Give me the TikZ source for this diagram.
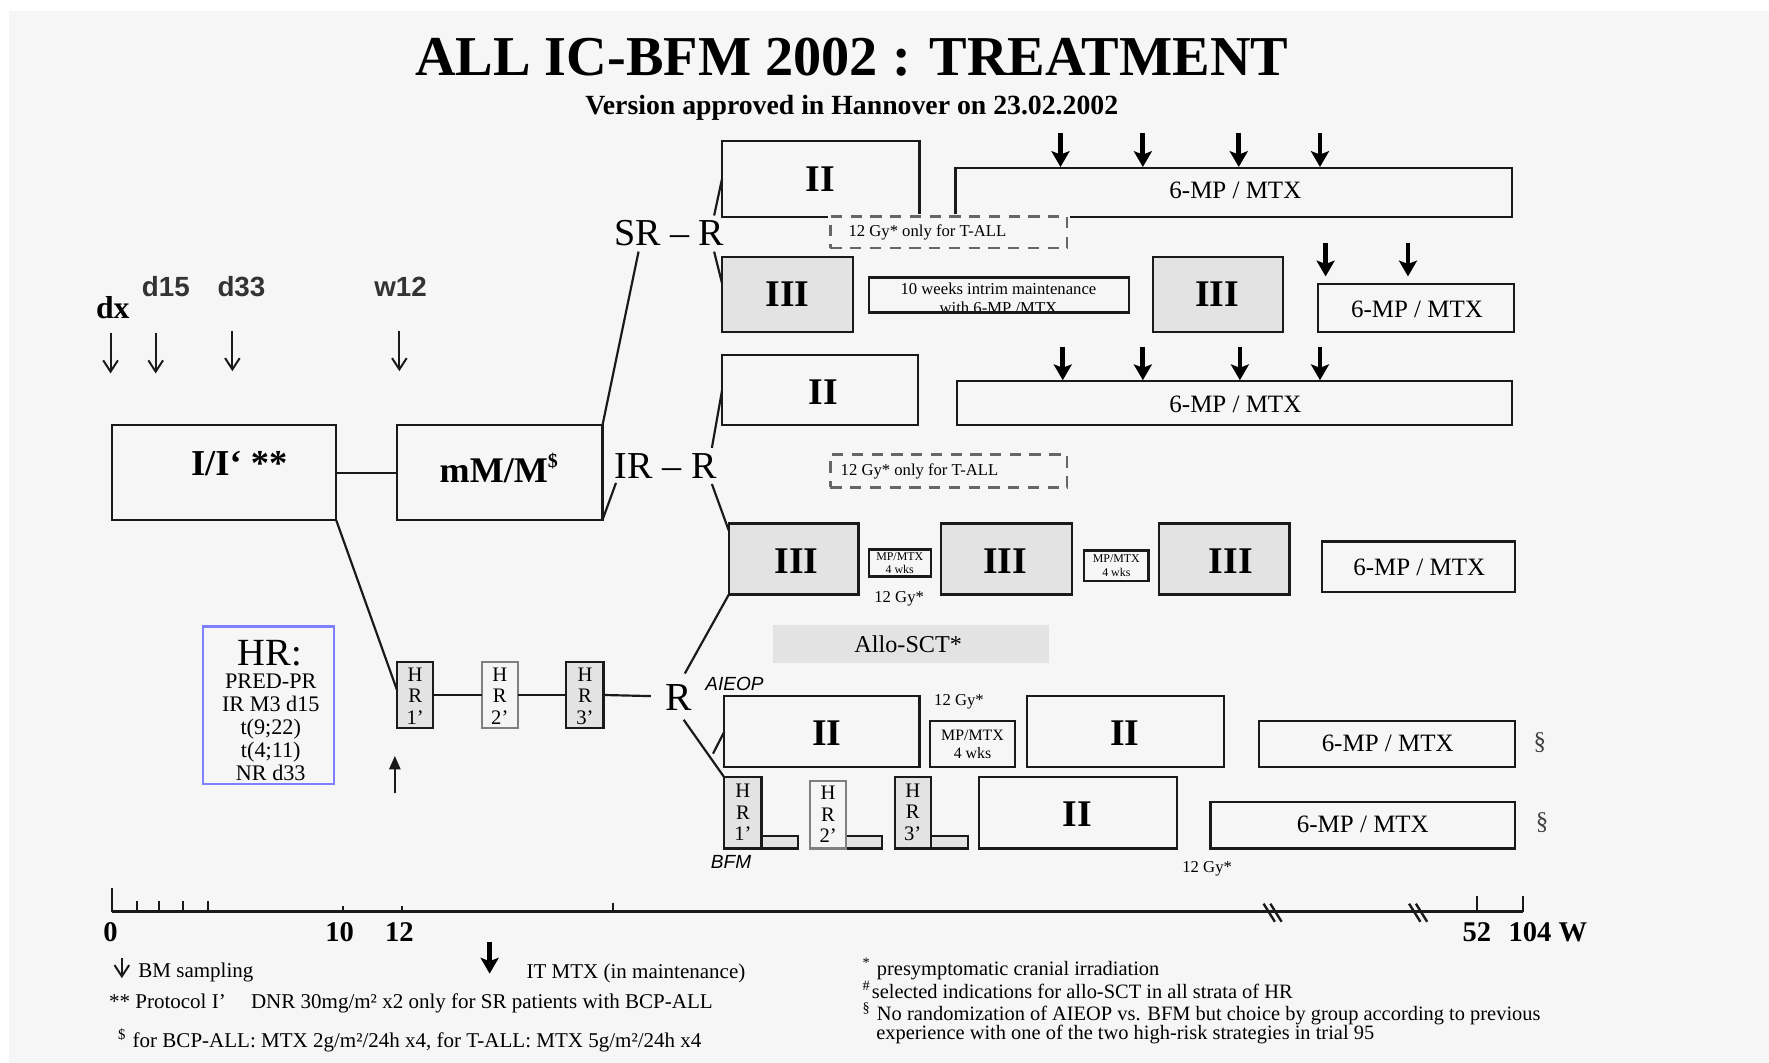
\documentclass[tikz,border=0pt]{standalone}
\usepackage{fontspec}
\setmainfont{Liberation Serif}
\newfontfamily\sansfam{Liberation Sans}
\usetikzlibrary{arrows.meta,fit,calc}
\definecolor{bgc}{HTML}{F6F6F6}
\definecolor{fillc}{HTML}{E3E3E3}
\definecolor{hrblue}{HTML}{8080FF}
\definecolor{ink}{HTML}{1A1A1A}
\newcommand\fsz[1]{\fontsize{#1pt}{#1pt}\selectfont}
\tikzset{
 box/.style={draw=ink, line width=0.55pt, inner sep=0pt, outer sep=0pt},
 gbox/.style={box, fill=fillc},
 lbox/.style={draw=gray, line width=0.55pt, fill=white!96!black, inner sep=0pt, outer sep=0pt},
 dbox/.style={draw=gray!80!black, dash pattern=on 1mm off 0.75mm, line width=0.6pt, inner sep=0pt, outer sep=0pt},
 link/.style={draw=ink, line width=0.55pt},
 thinarr/.style={draw=ink, line width=0.5pt, -{Straight Barb[length=1mm,width=1.3mm]}},
 bigarr/.style={draw=black, line width=1.2pt, -{Stealth[length=1.4mm,width=1.6mm,inset=0.3mm]}},
 roman/.style={font=\bfseries\fsz{9.5}},
 mptxt/.style={font=\fsz{6.3}},
 smalltxt/.style={font=\fsz{4.2}},
 hrtxt/.style={align=center, font=\fontsize{5.2pt}{5.4pt}\selectfont, inner sep=0pt},
 legtxt/.style={font=\fsz{5.3}, anchor=west, inner sep=0pt},
 legtxtr/.style={font=\fsz{5.15}, anchor=west, inner sep=0pt},
 daytxt/.style={font=\sansfam\bfseries\fsz{7}, text=black!80},
 axtxt/.style={font=\bfseries\fsz{7.2}},
 grptxt/.style={font=\sansfam\itshape\fsz{4.8}},
}
\begin{document}
\begin{tikzpicture}[x=0.1mm,y=-0.1mm]
\useasboundingbox (0,0) rectangle (1568,942);
\fill[white] (0,0) rectangle (1568,942);
\fill[bgc] (8,10) rectangle (1568,942);

% title
\node[font=\bfseries\fsz{14.2}] (title) at (755,51) {ALL IC-BFM 2002 : TREATMENT};
\node[font=\bfseries\fsz{7.0}] (subtitle) at (755,96) {Version approved in Hannover on 23.02.2002};

% time point labels and BM arrows
\node[font=\bfseries\fsz{8}] (dx) at (100,273) {dx};
\node[daytxt] (d15) at (147,254) {d15};
\node[daytxt] (d33) at (214,254) {d33};
\node[daytxt] (w12) at (355,254) {w12};
\draw[thinarr] (98,295) -- (98,331);
\draw[thinarr] (138,295) -- (138,331);
\draw[thinarr] (206,293) -- (206,329);
\draw[thinarr] (354,293) -- (354,329);

% induction and consolidation
\node[box, fit={(99,377)(298,461)}] (ind) {};
\node[font=\bfseries\fsz{9.2}] (indt) at (212,411) {I/I‘ **};
\node[box, fit={(352,377)(534,461)}] (mm) {};
\node[font=\bfseries\fsz{9.1}] (mmt) at (443,415) {mM/M\textsuperscript{\fsz{5}\$}};
\draw[link] (ind.east) -- (mm.west);

\node[font=\fsz{9.6}] (srr) at (593,207) {SR – R};
\node[font=\fsz{9.6}] (irr) at (590,413) {IR – R};
\coordinate (srrA) at (566,223);
\coordinate (irrA) at (546,428);
\draw[link] (mm.north east) -- (srrA);
\draw[link] (mm.south east) -- (irrA);

% ---------- SR row ----------
\node[box, fit={(640,125)(815,192)}] (sr2) {};
\node[roman] at (727,159) {II};
\node[box, fit={(847,149)(1340,192)}] (srm) {};
\node[mptxt] at (1095,169) {6-MP / MTX};
\fill[bgc] (734,190) rectangle (948,222);
\node[dbox, fit={(736,192)(946,220)}] (srd) {};
\node[smalltxt] at (822,206) {12 Gy* only for T-ALL};
\foreach \x in {940,1013,1098,1170} \draw[bigarr] (\x,118) -- (\x,148);

\node[gbox, fit={(640,228)(756,294)}] (sr3) {};
\node[roman] at (698,261) {III};
\node[smalltxt] at (885,256) {10 weeks intrim maintenance};
\node[smalltxt] at (885,273) {with 6-MP /MTX};
\node[box, fit={(770,246)(1001,277)}] (srint) {};
\node[gbox, fit={(1022,228)(1137,294)}] (sr3b) {};
\node[roman] at (1079,261) {III};
\foreach \x in {1175,1248} \draw[bigarr] (\x,215) -- (\x,245);
\node[box, fit={(1168,252)(1342,294)}] (srm2) {};
\node[mptxt] at (1256,274) {6-MP / MTX};

\coordinate (srrU) at (633,191);
\coordinate (srrD) at (633,223);
\draw[link] (srrU) -- (sr2.west);
\draw[link] (srrD) -- ($(sr3.north west)!0.35!(sr3.south west)$);

% ---------- IR row ----------
\node[box, fit={(640,315)(814,377)}] (ir2) {};
\node[roman] at (730,348) {II};
\node[box, fit={(848,338)(1340,377)}] (irm) {};
\node[mptxt] at (1095,358) {6-MP / MTX};
\foreach \x in {942,1013,1099,1170} \draw[bigarr] (\x,308) -- (\x,337);
\node[dbox, fit={(736,403)(946,432)}] (ird) {};
\node[smalltxt] at (815,418) {12 Gy* only for T-ALL};

\node[gbox, fit={(646,464)(761,527)}] (ir3a) {};
\node[roman] at (706,497) {III};
\node[gbox, fit={(834,464)(950,527)}] (ir3b) {};
\node[roman] at (891,497) {III};
\node[gbox, fit={(1027,464)(1143,527)}] (ir3c) {};
\node[roman] at (1091,497) {III};
\node[box, fit={(770,487)(825,511)}] (irmp1) {};
\node[align=center, font=\fontsize{3pt}{3.4pt}\selectfont, inner sep=0pt] at (797.5,499) {MP/MTX\\4 wks};
\node[box, fit={(961,488)(1018,515)}] (irmp2) {};
\node[align=center, font=\fontsize{3pt}{3.4pt}\selectfont, inner sep=0pt] at (989.5,501.5) {MP/MTX\\4 wks};
\node[smalltxt] at (797,531) {12 Gy*};
\node[box, fit={(1172,480)(1343,525)}] (irm2) {};
\node[mptxt] at (1258,503) {6-MP / MTX};

\coordinate (irrU) at (631,397);
\coordinate (irrD) at (631,429);
\draw[link] (irrU) -- (ir2.west);
\draw[link] (irrD) -- ($(ir3a.north west)!0.1!(ir3a.south west)$);

% Allo-SCT
\node[fill=fillc, inner sep=0pt, fit={(685,554)(930,588)}] (allo) {};
\node[font=\fsz{6.1}] at (805,571) {Allo-SCT*};

% ---------- HR ----------
\node[draw=hrblue, line width=0.7pt, inner sep=0pt, fit={(180,555)(296,695)}] (hrbox) {};
\node[font=\fsz{9.7}, inner sep=0pt] at (239,579) {HR:};
\node[align=center, font=\fontsize{5.6pt}{5.75pt}\selectfont, inner sep=0pt, anchor=north] at (240,597) {PRED-PR\\IR M3 d15\\t(9;22)\\t(4;11)\\NR d33};

\node[gbox, fit={(352,587)(384,645)}] (hr1) {};
\node[hrtxt] at (368,617) {H\\R\\1’};
\node[lbox, fit={(427,587)(459,645)}] (hr2) {};
\node[hrtxt] at (443,617) {H\\R\\2’};
\node[gbox, fit={(502,587)(535,645)}] (hr3) {};
\node[hrtxt] at (518.5,617) {H\\R\\3’};
\node[font=\fsz{10}] (hrR) at (602,618) {R};
\coordinate (hrRin) at (577,617);
\draw[link] (hr1.east) -- (hr2.west);
\draw[link] (hr2.east) -- (hr3.west);
\draw[link] (hr3.east) -- (hrRin);
\draw[link] (ind.south east) -- ($(hr1.north west)!0.43!(hr1.south west)$);
\draw[draw=ink, line width=0.5pt, -{Triangle[length=1.2mm,width=1mm]}] (350,703) -- (350,670);

% AIEOP row
\node[grptxt] at (651,606) {AIEOP};
\node[box, fit={(642,617)(815,680)}] (aie2) {};
\node[roman] at (733,650) {II};
\node[smalltxt] at (850,622) {12 Gy*};
\node[box, fit={(824,639)(900,680)}] (aiemp) {};
\node[align=center, font=\fontsize{4pt}{4.6pt}\selectfont, inner sep=0pt] at (862,659.5) {MP/MTX\\4 wks};
\node[box, fit={(910,617)(1085,680)}] (aie2b) {};
\node[roman] at (997,650) {II};
\node[box, fit={(1116,639)(1343,680)}] (aiem) {};
\node[mptxt] at (1230,659) {6-MP / MTX};
\node[font=\fsz{6.3}, text=black!75] at (1365,658) {§};

% BFM row
\node[gbox, fit={(675,741)(707,752)}] (bar1) {};
\node[gbox, fit={(750,741)(782,752)}] (bar2) {};
\node[gbox, fit={(825,741)(858,752)}] (bar3) {};
\node[gbox, fit={(642,689)(675,752)}] (bfm1) {};
\node[hrtxt] at (658.5,720) {H\\R\\1’};
\node[lbox, fit={(718,692)(750,752)}] (bfm2) {};
\node[hrtxt] at (734,722) {H\\R\\2’};
\node[gbox, fit={(793,689)(825,752)}] (bfm3) {};
\node[hrtxt] at (809,720) {H\\R\\3’};
\node[box, fit={(868,689)(1043,752)}] (bfmII) {};
\node[roman] at (955,722) {II};
\node[box, fit={(1073,711)(1343,752)}] (bfmm) {};
\node[mptxt] at (1208,731) {6-MP / MTX};
\node[font=\fsz{6.3}, text=black!75] at (1367,729) {§};
\node[smalltxt] at (1070,770) {12 Gy*};
\node[grptxt] at (648,764) {BFM};

% connectors from R
\coordinate (hrRu) at (607,597);
\coordinate (hrRd) at (606,638);
\coordinate (hrRm) at (632,668);
\draw[link] (hrRu) -- (ir3a.south west);
\draw[link] (hrRd) -- (bfm1.north west);
\draw[link] (hrRm) -- (aie2.west);

% ---------- time axis ----------
\draw[ink, line width=0.8pt] (99,808) -- (1350,808);
\draw[ink, line width=0.6pt] (99,787) -- (99,808);
\foreach \x in {121,141,162,184} \draw[ink, line width=0.5pt] (\x,799) -- (\x,808);
\foreach \x in {304,356} \draw[ink, line width=0.5pt] (\x,803) -- (\x,808);
\draw[ink, line width=0.5pt] (543,800) -- (543,808);
\draw[ink, line width=0.5pt] (1309,794) -- (1309,808);
\draw[ink, line width=0.5pt] (1350,794) -- (1350,808);
\foreach \x in {1128,1257} {
  \draw[ink, line width=0.6pt] (\x-8,801) -- (\x+2,817);
  \draw[ink, line width=0.6pt] (\x-2,801) -- (\x+8,817);
}
\node[axtxt] (t0) at (98,826) {0};
\node[axtxt] (t10) at (301,826) {10};
\node[axtxt] (t12) at (354,826) {12};
\node[axtxt] (t52) at (1309,826) {52};
\node[axtxt] (t104) at (1372,826) {104 W};

% ---------- legend ----------
\draw[thinarr] (108,849) -- (108,867);
\node[legtxt] (lbm) at (122,862) {BM sampling};
\draw[bigarr] (434,835) -- (434,863);
\node[legtxt] (lit) at (466,863) {IT MTX (in maintenance)};
\node[legtxt] (lprot) at (96,889) {** Protocol I’\hspace{1.2em}DNR 30mg/m² x2 only for SR patients with BCP-ALL};
\node[legtxt] (ldol) at (104,922) {\textsuperscript{\$} for BCP-ALL: MTX 2g/m²/24h x4, for T-ALL: MTX 5g/m²/24h x4};
\node[legtxtr] (lstar) at (764,859) {\textsuperscript{*} presymptomatic cranial irradiation};
\node[legtxtr] (lhash) at (764,877) {\textsuperscript{\#}selected indications for allo-SCT in all strata of HR};
\node[legtxtr] (lsec) at (764,899) {\textsuperscript{§} No randomization of AIEOP vs. BFM but choice by group according to previous};
\node[legtxtr] (lsec2) at (776,917) {experience with one of the two high-risk strategies in trial 95};
\end{tikzpicture}
\end{document}
